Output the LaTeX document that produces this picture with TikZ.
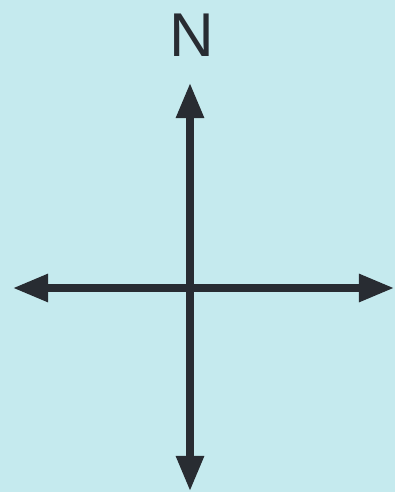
\documentclass[tikz,border=0pt]{standalone}
\usepackage{fontspec}
\setsansfont{Liberation Sans}
\usetikzlibrary{arrows.meta}
\definecolor{paper}{RGB}{197,234,238}
\definecolor{ink}{RGB}{40,44,50}
\begin{document}
\begin{tikzpicture}[x=0.025cm, y=-0.025cm, line width=5pt,
  axis/.style={draw=ink, {Triangle[length=25pt, width=19pt]}-{Triangle[length=25pt, width=19pt]}}]
  \fill[paper] (0,0) rectangle (395,492);
  \useasboundingbox (0,0) rectangle (395,492);
  \coordinate (north) at (190,83);
  \coordinate (south) at (190,491);
  \coordinate (west) at (13,288);
  \coordinate (east) at (394,288);
  \draw[axis] (south) -- (north);
  \draw[axis] (west) -- (east);
  \node[font=\sffamily\fontsize{44}{44}\selectfont, text=ink, inner sep=0pt] (label) at (192,35) {N};
\end{tikzpicture}
\end{document}
